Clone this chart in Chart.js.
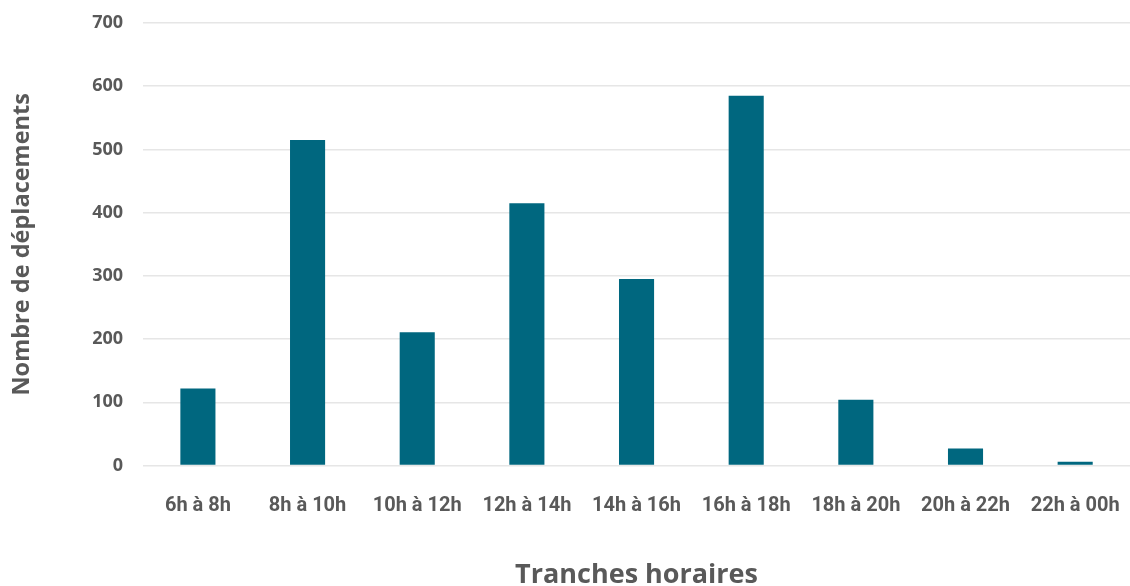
<!DOCTYPE html>
<html>
<head>
<meta charset="utf-8">
<script src="https://cdn.jsdelivr.net/npm/chart.js@4"></script>
<style>
  html, body { margin: 0; padding: 0; background: #fff; }
  #wrap { width: 1130px; height: 586px; }
</style>
</head>
<body>
<div id="wrap"><canvas id="barGraph"></canvas></div>
<script>
const categories = ['6h à 8h', '8h à 10h', '10h à 12h', '12h à 14h', '14h à 16h', '16h à 18h', '18h à 20h', '20h à 22h', '22h à 00h'];
const deplacements = [122, 515, 211, 415, 295, 585, 104, 27, 6];
const yTicks = [0, 100, 200, 300, 400, 500, 600, 700];

document.addEventListener('DOMContentLoaded', function() {
    barGraph();
});

function barGraph() {
    let ctx = document.getElementById('barGraph').getContext('2d');
    new Chart(ctx, {
        type: 'bar',
        data: {
            labels: categories,
            datasets: [{
                label: 'Nombre de déplacements',
                data: deplacements,
                backgroundColor: '#00677f',
                borderWidth: 0,
                barPercentage: 0.32,
                categoryPercentage: 1
            }]
        },
        options: {
            responsive: true,
            maintainAspectRatio: false,
            animation: false,
            layout: { padding: { top: 23, right: -6, bottom: -6, left: 8 } },
            plugins: {
                legend: { display: false },
                tooltip: { enabled: false }
            },
            scales: {
                x: {
                    grid: { display: false },
                    border: { display: false },
                    afterFit: function(scale) {
                        // let the last label overflow like the original
                        scale.paddingLeft = 0;
                        scale.paddingRight = 0;
                    },
                    ticks: {
                        color: '#595959',
                        padding: 20,
                        maxRotation: 0,
                        font: { family: 'Roboto', size: 20, weight: 'bold' }
                    },
                    title: {
                        display: true,
                        text: 'Tranches horaires',
                        color: '#595959',
                        padding: { top: 22, bottom: 0 },
                        font: { family: 'Open Sans', size: 27, weight: 'bold' }
                    }
                },
                y: {
                    min: 0,
                    max: 700,
                    afterBuildTicks: function(axis) {
                        axis.ticks = yTicks.map(v => ({ value: v }));
                    },
                    afterFit: function(scale) {
                        scale.paddingTop = 0;
                        scale.paddingBottom = 0;
                    },
                    grid: { color: '#e6e6e6', lineWidth: 1.5, drawTicks: false },
                    border: { display: false },
                    ticks: {
                        color: '#595959',
                        padding: 20,
                        font: { family: 'Open Sans', size: 18, weight: 'bold' }
                    },
                    title: {
                        display: true,
                        text: 'Nombre de déplacements',
                        color: '#595959',
                        padding: { top: 0, bottom: 36 },
                        font: { family: 'Open Sans', size: 23.5, weight: 'bold' }
                    }
                }
            }
        }
    });
}
</script>
</body>
</html>
